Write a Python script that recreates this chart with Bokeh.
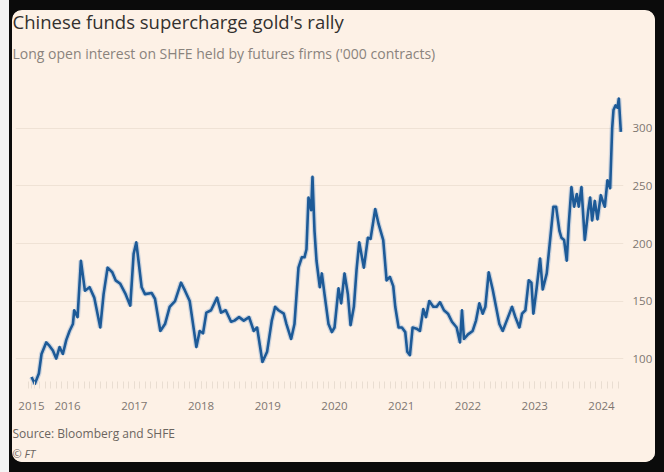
from bokeh.plotting import figure
from bokeh.models import Title, FixedTicker, Range1d
from bokeh.layouts import column
from bokeh.embed import file_html
from bokeh.resources import INLINE

# ---- data (decimal years, '000 contracts) ----
dates = [
    2015.46, 2015.51, 2015.57, 2015.61, 2015.68, 2015.73, 2015.78, 2015.83, 2015.88, 2015.93, 2015.98,
    2016.03, 2016.08, 2016.10, 2016.15, 2016.20, 2016.26, 2016.33, 2016.40, 2016.49, 2016.54, 2016.60,
    2016.67, 2016.72, 2016.79, 2016.87, 2016.94, 2016.99,
    2017.03, 2017.11, 2017.16, 2017.26, 2017.31, 2017.39, 2017.46, 2017.53, 2017.61, 2017.70, 2017.76,
    2017.83, 2017.93, 2017.98,
    2018.03, 2018.08, 2018.15, 2018.24, 2018.30, 2018.37, 2018.45, 2018.50, 2018.57, 2018.64, 2018.72,
    2018.79, 2018.84, 2018.92, 2018.99,
    2019.06, 2019.11, 2019.16, 2019.24, 2019.28, 2019.35, 2019.40, 2019.46, 2019.51, 2019.55, 2019.58,
    2019.61, 2019.65, 2019.67, 2019.70, 2019.73, 2019.78, 2019.81, 2019.85, 2019.91, 2019.96,
    2020.00, 2020.06, 2020.10, 2020.15, 2020.20, 2020.24, 2020.29, 2020.33, 2020.37, 2020.44, 2020.50,
    2020.54, 2020.61, 2020.66, 2020.73, 2020.78, 2020.83, 2020.88, 2020.91, 2020.96,
    2021.01, 2021.06, 2021.09, 2021.13, 2021.17, 2021.23, 2021.28, 2021.33, 2021.37, 2021.42, 2021.48,
    2021.53, 2021.58, 2021.64, 2021.70, 2021.76, 2021.83, 2021.88, 2021.91, 2021.94,
    2022.00, 2022.07, 2022.12, 2022.17, 2022.22, 2022.26, 2022.31, 2022.37, 2022.42, 2022.47, 2022.52,
    2022.58, 2022.66, 2022.71, 2022.77, 2022.81, 2022.86, 2022.91, 2022.95, 2022.98,
    2023.03, 2023.08, 2023.12, 2023.18, 2023.23, 2023.28, 2023.32, 2023.37, 2023.40, 2023.44, 2023.48,
    2023.51, 2023.55, 2023.59, 2023.63, 2023.66, 2023.70, 2023.75, 2023.80, 2023.83, 2023.86, 2023.90,
    2023.94, 2023.99,
    2024.03, 2024.05, 2024.09, 2024.13, 2024.16, 2024.18, 2024.21, 2024.24, 2024.26, 2024.29,
]
long_oi = [
    84, 78, 87, 104, 114, 111, 107, 100, 110, 104, 116,
    124, 130, 142, 136, 185, 159, 162, 153, 127, 156, 179, 175, 168, 165, 156, 146, 191,
    201, 162, 156, 157, 152, 124, 130, 145, 150, 166, 159, 150, 110, 124,
    122, 140, 142, 153, 140, 142, 132, 133, 136, 133, 136, 124, 127, 97, 106,
    133, 145, 142, 139, 130, 117, 130, 179, 188, 188, 195, 240, 229, 258, 211, 185, 162, 174, 156, 130, 123,
    127, 161, 148, 174, 156, 129, 145, 177, 201, 179, 205, 204, 230, 217, 203, 168, 171, 163, 145, 127,
    127, 123, 106, 103, 127, 126, 124, 143, 136, 150, 145, 145, 149, 142, 139, 132, 127, 114, 142, 117,
    121, 124, 133, 148, 139, 145, 175, 160, 145, 130, 124, 133, 145, 136, 127, 139, 142, 168, 166, 139,
    162, 187, 160, 174, 203, 232, 232, 211, 205, 203, 185, 217, 249, 232, 243, 232, 249, 203, 228, 240,
    220, 237, 221, 242,
    235, 232, 255, 248, 300, 316, 320, 318, 326, 297,
]
year_ticks = [2015.46, 2016, 2017, 2018, 2019, 2020, 2021, 2022, 2023, 2024]
year_labels = ["2015", "2016", "2017", "2018", "2019", "2020", "2021", "2022", "2023", "2024"]
y_ticks = [100, 150, 200, 250, 300]
month_ticks = [2015 + m / 12 for m in range(5, 113)]

title_text = "Chinese funds supercharge gold's rally"
subtitle_text = "Long open interest on SHFE held by futures firms ('000 contracts)"
source_text = "Source: Bloomberg and SHFE"
credit_text = "© FT"

BG = "#fdf1e6"
FONT = "Open Sans"

p = figure(width=643, height=452, x_range=Range1d(2015.22, 2024.33), y_range=Range1d(74, 346),
           y_axis_location="right", toolbar_location=None, output_backend="svg",
           background_fill_color=BG, border_fill_color=BG,
           min_border_left=3, min_border_right=25, min_border_top=65, min_border_bottom=74)
p.title = None
p.outline_line_color = None

def make_title(txt, size, color, standoff, style="normal"):
    return Title(text=txt, text_font=FONT, text_font_size=size, text_font_style=style,
                 text_color=color, align="left", offset=-3, standoff=standoff)

# above: first added sits next to the frame
p.add_layout(make_title(subtitle_text, "14px", "#8a837d", 25), "above")
p.add_layout(make_title(title_text, "18.5px", "#33302e", -8.5), "above")
# below: after the x axis
p.add_layout(make_title(source_text, "12px", "#6b6560", 20), "below")
p.add_layout(make_title(credit_text, "11px", "#6b6560", -16, "italic"), "below")

p.line(dates, long_oi, line_color="#6f9ccc", line_width=5, line_alpha=0.35)
p.line(dates, long_oi, line_color="#1d5a97", line_width=2.6, line_join="round")

xa = p.xaxis[0]
xa.ticker = FixedTicker(ticks=year_ticks, minor_ticks=month_ticks)
xa.major_label_overrides = {t: l for t, l in zip(year_ticks, year_labels)}
xa.axis_line_color = None
xa.major_tick_line_color = "#e9ddd1"
xa.major_tick_in = 7
xa.major_tick_out = 0
xa.minor_tick_line_color = "#e9ddd1"
xa.minor_tick_in = 7
xa.minor_tick_out = 0
xa.major_label_standoff = 13
xa.major_label_text_font = FONT
xa.major_label_text_font_size = "11.5px"
xa.major_label_text_color = "#7d7671"

ya = p.yaxis[0]
ya.ticker = FixedTicker(ticks=y_ticks)
ya.axis_line_color = None
ya.major_tick_line_color = None
ya.minor_tick_line_color = None
ya.major_label_standoff = 3
ya.major_label_text_font = FONT
ya.major_label_text_font_size = "11.5px"
ya.major_label_text_color = "#7d7671"

p.xgrid.grid_line_color = None
p.ygrid.ticker = FixedTicker(ticks=y_ticks)
p.ygrid.grid_line_color = "#efe2d5"
p.ygrid.grid_line_width = 1

p.styles = {"border-radius": "10px", "overflow": "hidden", "background-color": BG}

layout = column(p, styles={"background-color": "#0b0b0b", "padding": "10px 9px 10px 3px",
                           "border-left": "9px solid #f3f3f3"})

open("out.html", "w").write(file_html(layout, INLINE))
